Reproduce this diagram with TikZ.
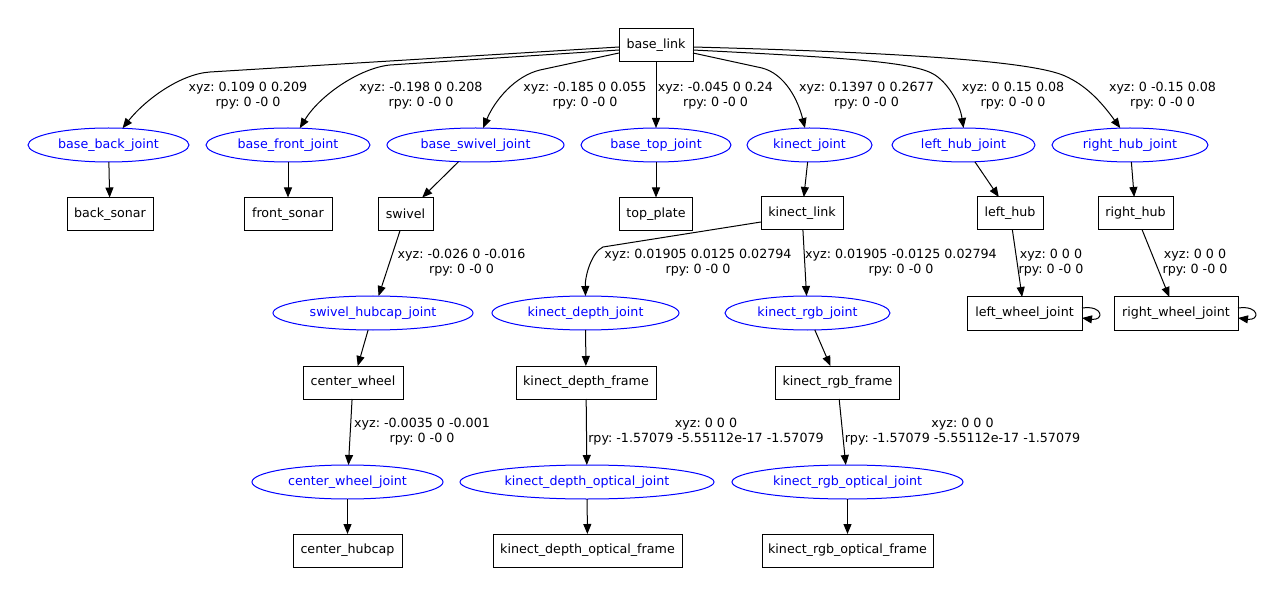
\documentclass[tikz,border=0pt]{standalone}
\usepackage{fontspec}
\setmainfont{DejaVu Sans}
\usetikzlibrary{shapes.geometric,arrows.meta,calc}
\definecolor{jblue}{RGB}{0,0,255}
\frenchspacing
\begin{document}
\begin{tikzpicture}[x=0.75pt,y=-0.75pt,
  every node/.style={font=\fontsize{9.5}{11.25}\selectfont\frenchspacing, inner sep=0pt, outer sep=0pt},
  link/.style={draw=black, line width=0.75pt, rectangle, minimum height=24.75pt, minimum width=#1*0.75pt},
  joint/.style={draw=jblue, text=jblue, line width=0.75pt, ellipse, minimum height=25.5pt, minimum width=#1*0.75pt},
  lbl/.style={align=center},
  edge/.style={draw=black, line width=0.75pt, -{Triangle[length=7.5pt,width=6pt]}},
]
\fill[white] (0,0) rectangle (1285,595);
\useasboundingbox (0,0) rectangle (1285,595);

% row 0
\node[link=74] (bl) at (656,45.5) {base\_link};
% row 1 joints
\node[joint=161] (bbj) at (108.5,145) {base\_back\_joint};
\node[joint=164] (bfj) at (288,145) {base\_front\_joint};
\node[joint=177] (bsj) at (475.5,145) {base\_swivel\_joint};
\node[joint=150] (btj) at (656,145) {base\_top\_joint};
\node[joint=125] (kj) at (809.5,145) {kinect\_joint};
\node[joint=143] (lhj) at (963.5,145) {left\_hub\_joint};
\node[joint=156] (rhj) at (1130,145) {right\_hub\_joint};
% row 2 links
\node[link=86] (bs) at (110,214) {back\_sonar};
\node[link=88] (fs) at (288,214) {front\_sonar};
\node[link=55] (sw) at (405.5,214) {swivel};
\node[link=73] (tp) at (656,214) {top\_plate};
\node[link=82] (kl) at (802,213.5) {kinect\_link};
\node[link=66] (lh) at (1010,213.5) {left\_hub};
\node[link=75] (rh) at (1135.5,213.5) {right\_hub};
% row 3
\node[joint=200] (shj) at (373,313) {swivel\_hubcap\_joint};
\node[joint=187] (kdj) at (585.5,313) {kinect\_depth\_joint};
\node[joint=165] (krj) at (807.5,313) {kinect\_rgb\_joint};
\node[link=115] (lwj) at (1024.5,313.5) {left\_wheel\_joint};
\node[link=124] (rwj) at (1176,313.5) {right\_wheel\_joint};
% row 4
\node[link=100] (cw) at (353,382.5) {center\_wheel};
\node[link=140] (kdf) at (586,382.5) {kinect\_depth\_frame};
\node[link=124] (krf) at (837.5,382.5) {kinect\_rgb\_frame};
% row 5
\node[joint=191] (cwj) at (347.5,482) {center\_wheel\_joint};
\node[joint=254] (kdoj) at (587,482) {kinect\_depth\_optical\_joint};
\node[joint=231] (kroj) at (847.5,482) {kinect\_rgb\_optical\_joint};
% row 6
\node[link=109] (ch) at (347.5,550.5) {center\_hubcap};
\node[link=189] (kdof) at (587.5,550.5) {kinect\_depth\_optical\_frame};
\node[link=171] (krof) at (847.5,550.5) {kinect\_rgb\_optical\_frame};

% labels
\node[lbl] (l1) at (248,95.5) {xyz: 0.109 0 0.209\\rpy: 0 -0 0};
\node[lbl] (l2) at (421,95.5) {xyz: -0.198 0 0.208\\rpy: 0 -0 0};
\node[lbl] (l3) at (585,95.5) {xyz: -0.185 0 0.055\\rpy: 0 -0 0};
\node[lbl] (l4) at (715.5,95.5) {xyz: -0.045 0 0.24\\rpy: 0 -0 0};
\node[lbl] (l5) at (866.5,95.5) {xyz: 0.1397 0 0.2677\\rpy: 0 -0 0};
\node[lbl] (l6) at (1013,95.5) {xyz: 0 0.15 0.08\\rpy: 0 -0 0};
\node[lbl] (l7) at (1162.5,95.5) {xyz: 0 -0.15 0.08\\rpy: 0 -0 0};
\node[lbl] (l8) at (461.5,263) {xyz: -0.026 0 -0.016\\rpy: 0 -0 0};
\node[lbl] (l9) at (698,263) {xyz: 0.01905 0.0125 0.02794\\rpy: 0 -0 0};
\node[lbl] (l10) at (901,263) {xyz: 0.01905 -0.0125 0.02794\\rpy: 0 -0 0};
\node[lbl] (l11) at (1051,263) {xyz: 0 0 0\\rpy: 0 -0 0};
\node[lbl] (l12) at (1195,263) {xyz: 0 0 0\\rpy: 0 -0 0};
\node[lbl] (l13) at (422,431.5) {xyz: -0.0035 0 -0.001\\rpy: 0 -0 0};
\node[lbl] (l14) at (706,431.5) {xyz: 0 0 0\\rpy: -1.57079 -5.55112e-17 -1.57079};
\node[lbl] (l15) at (962.5,431.5) {xyz: 0 0 0\\rpy: -1.57079 -5.55112e-17 -1.57079};

% edges from base_link
\draw[edge] ($(bl.west)+(0,1.5)$) -- (210,72) .. controls (180,74) and (145,100) .. (bbj.50);
\draw[edge] ($(bl.west)+(0,4.5)$) -- (390,65) .. controls (360,68) and (320,95) .. (bfj.55);
\draw[edge] ($(bl.west)+(0,7.5)$) -- (540,70) .. controls (515,76) and (495,100) .. (bsj.66);
\draw[edge] (bl) -- (btj);
\draw[edge] ($(bl.east)+(0,7.5)$) -- (762,68) .. controls (785,74) and (798,100) .. (kj.105);
\draw[edge] ($(bl.east)+(0,4.5)$) .. controls (850,58) and (915,62) .. (935,75) .. controls (950,85) and (960,105) .. (lhj.north);
\draw[edge] ($(bl.east)+(0,1.5)$) .. controls (880,52) and (1030,60) .. (1065,76) .. controls (1085,85) and (1100,100) .. (rhj.120);

% joint -> link
\draw[edge] (bbj) -- (bs);
\draw[edge] (bfj) -- (fs);
\draw[edge] (bsj) -- (sw);
\draw[edge] (btj) -- (tp);
\draw[edge] (kj) -- (kl);
\draw[edge] (lhj) -- (lh);
\draw[edge] (rhj) -- (rh);
\draw[edge] (shj) -- (cw);
\draw[edge] (kdj) -- (kdf);
\draw[edge] (krj) -- (krf);
\draw[edge] (cwj) -- (ch);
\draw[edge] (kdoj) -- (kdof);
\draw[edge] (kroj) -- (krof);

% link -> joint (labelled)
\draw[edge] (sw) -- (shj);
\draw[edge] ($(kl.west)+(0,8.5)$) -- (603,247) .. controls (592,252) and (585,275) .. (kdj.north);
\draw[edge] (kl) -- (krj);
\draw[edge] (lh) -- (lwj);
\draw[edge] (rh) -- (rwj);
\draw[edge] (cw) -- (cwj);
\draw[edge] (kdf) -- (kdoj);
\draw[edge] (krf) -- (kroj);

% self loops
\draw[edge] ($(lwj.east)+(0,-5.5)$) .. controls +(22,-3) and +(22,3) .. ($(lwj.east)+(0,4.5)$);
\draw[edge] ($(rwj.east)+(0,-5.5)$) .. controls +(22,-3) and +(22,3) .. ($(rwj.east)+(0,4.5)$);
\end{tikzpicture}
\end{document}
